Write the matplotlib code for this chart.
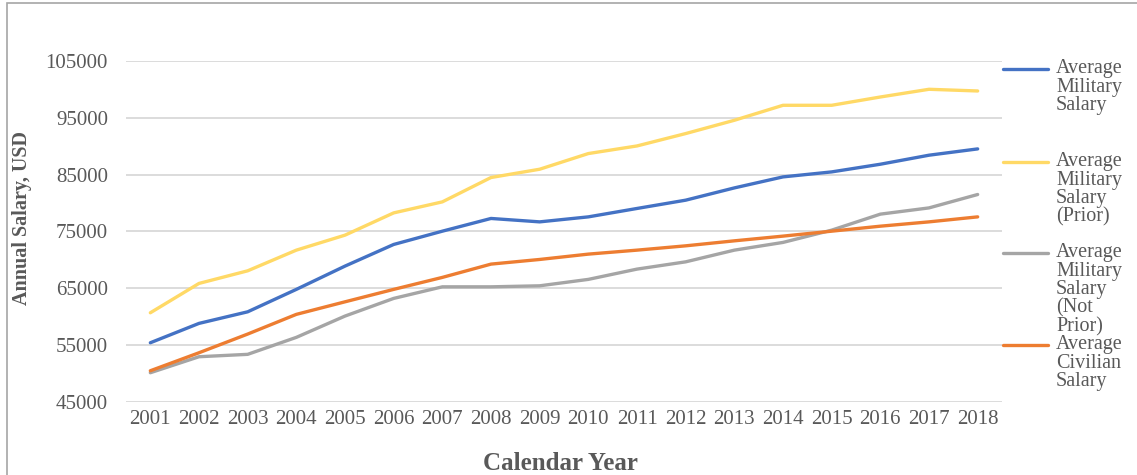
import matplotlib
matplotlib.use("Agg")
import matplotlib.pyplot as plt
from matplotlib.lines import Line2D
from matplotlib.patches import Rectangle


YEARS = list(range(2001, 2019))

MILITARY = [55380, 58790, 60830, 64780, 68880, 72690, 75030, 77270, 76670,
            77550, 79030, 80490, 82650, 84590, 85470, 86820, 88410, 89520]
MILITARY_PRIOR = [60660, 65830, 68050, 71690, 74330, 78250, 80190, 84480, 85940,
                  88700, 90040, 92220, 94560, 97200, 97200, 98660, 100020, 99720]
MILITARY_NOT_PRIOR = [50100, 52920, 53340, 56330, 60080, 63190, 65230, 65230, 65410,
                      66540, 68350, 69630, 71690, 73050, 75210, 78030, 79130, 81490]
CIVILIAN = [50450, 53620, 56910, 60380, 62590, 64780, 66890, 69230, 70050,
            70990, 71690, 72450, 73330, 74160, 75030, 75910, 76670, 77550]

SERIES = [
    ("Average\nMilitary\nSalary", MILITARY, "#4472C4"),
    ("Average\nMilitary\nSalary\n(Prior)", MILITARY_PRIOR, "#FFD966"),
    ("Average\nMilitary\nSalary\n(Not\nPrior)", MILITARY_NOT_PRIOR, "#A5A5A5"),
    ("Average\nCivilian\nSalary", CIVILIAN, "#ED7D31"),
]
Y_TICKS = [45000, 55000, 65000, 75000, 85000, 95000, 105000]

TEXT_GRAY = "#595959"
W, H = 1137, 475

plt.rcParams["font.family"] = ["Liberation Serif", "DejaVu Serif"]

fig = plt.figure(figsize=(W / 100, H / 100), dpi=100)
ax = fig.add_axes([126 / W, 1 - 401.7 / H, (1002 - 126) / W, (401.7 - 61) / H])

positions = list(range(len(YEARS)))
for label, values, color in SERIES:
    ax.plot(positions, values, color=color, linewidth=2.4,
            solid_capstyle="round", label=label)

ax.set_xlim(-0.5, len(YEARS) - 0.5)
ax.set_ylim(Y_TICKS[0], Y_TICKS[-1])
ax.set_xticks(positions)
ax.set_xticklabels([str(y) for y in YEARS])
ax.set_yticks(Y_TICKS)
ax.set_yticklabels([str(v) for v in Y_TICKS])
ax.tick_params(axis="both", length=0, labelsize=15, labelcolor=TEXT_GRAY)
ax.tick_params(axis="y", pad=13)
ax.tick_params(axis="x", pad=6)
ax.grid(axis="y", color="#d9d9d9", linewidth=1.3)
ax.set_axisbelow(True)
for spine in ax.spines.values():
    spine.set_visible(False)

fig.text(22 / W, 1 - 218 / H, "Annual Salary, USD", rotation=90,
         ha="center", va="center", fontsize=14.5, fontweight="bold", color=TEXT_GRAY)
fig.text(560 / W, 1 - 463 / H, "Calendar Year", ha="center", va="center",
         fontsize=18, fontweight="bold", color=TEXT_GRAY)

# legend on the right, handle aligned with the first text line
legend_rows = [69, 162, 253, 345]
for (label, _, color), row in zip(SERIES, legend_rows):
    y = 1 - row / H
    fig.add_artist(Line2D([1003 / W, 1048 / W], [y, y], color=color,
                          linewidth=2.4, solid_capstyle="round"))
    fig.text(1056 / W, y + 10 / H, label, ha="left", va="top", fontsize=14.5,
             color=TEXT_GRAY, linespacing=0.97)

# chart frame (top and left edges visible)
fig.add_artist(Rectangle((7 / W, -0.5), 3.0, 1.5 - 3 / H, transform=fig.transFigure,
                         fill=False, edgecolor="#a6a6a6", linewidth=1.2))

fig.savefig("out.png", dpi=100)
